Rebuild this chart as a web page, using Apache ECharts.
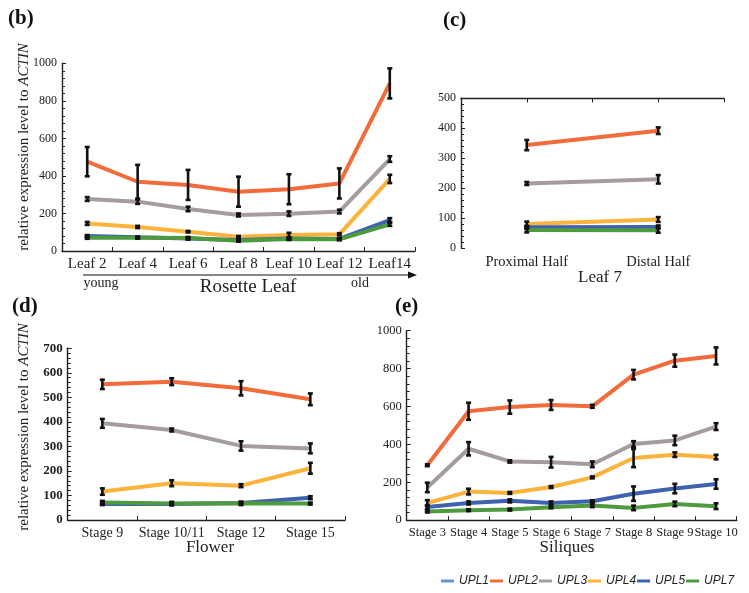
<!DOCTYPE html>
<html>
<head>
<meta charset="utf-8">
<script src="https://cdn.jsdelivr.net/npm/echarts@6/dist/echarts.min.js"></script>
<style>
html,body{margin:0;padding:0;background:#fff;}
#chart{width:749px;height:593px;}
</style>
</head>
<body>
<div id="chart"></div>
<script>
// ---------- data ----------
const genes = ['UPL1','UPL2','UPL3','UPL4','UPL5','UPL7'];
const geneColors = {UPL1:'#5b9bd5',UPL2:'#f26b3a',UPL3:'#a59c9c',UPL4:'#fbb33b',UPL5:'#3f62b0',UPL7:'#4e9a3f'};

// (b) Rosette leaf
const bCats = ['Leaf 2','Leaf 4','Leaf 6','Leaf 8','Leaf 10','Leaf 12','Leaf14'];
const bUPL2 = [476,369,352,316,329,360,893]; const bUPL2Err = [78,90,80,80,80,80,80];
const bUPL3 = [277,263,224,192,199,210,490]; const bUPL3Err = [10,12,12,8,12,10,15];
const bUPL4 = [147,128,103,76,85,89,384];    const bUPL4Err = [8,6,4,4,12,6,22];
const bUPL5 = [80,73,67,59,66,64,165];       const bUPL5Err = [5,4,6,4,4,4,10];
const bUPL7 = [71,71,69,55,64,62,142];       const bUPL7Err = [6,5,6,5,5,5,8];
const bTicks = [0,200,400,600,800,1000];

// (c) Leaf 7
const cCats = ['Proximal Half','Distal Half'];
const cUPL2 = [344,392]; const cUPL2Err = [17,11];
const cUPL3 = [216,230]; const cUPL3Err = [5,14];
const cUPL4 = [81,96];   const cUPL4Err = [8,8];
const cUPL5 = [70,71];   const cUPL5Err = [5,5];
const cUPL7 = [61,60];   const cUPL7Err = [8,8];
const cTicks = [0,100,200,300,400,500];

// (d) Flower
const dCats = ['Stage 9','Stage 10/11','Stage 12','Stage 15'];
const dUPL2 = [553,564,537,492]; const dUPL2Err = [19,14,29,24];
const dUPL3 = [394,367,302,292]; const dUPL3Err = [18,6,19,20];
const dUPL4 = [116,150,140,211]; const dUPL4Err = [13,12,6,22];
const dUPL5 = [65,65,69,91];     const dUPL5Err = [4,4,4,6];
const dUPL7 = [71,67,68,67];     const dUPL7Err = [7,7,7,4];
const dTicks = [0,100,200,300,400,500,600,700];

// (e) Siliques
const eCats = ['Stage 3','Stage 4','Stage 5','Stage 6','Stage 7','Stage 8','Stage 9','Stage 10'];
const eUPL2 = [290,575,597,608,601,768,842,867]; const eUPL2Err = [5,45,35,26,8,25,32,45];
const eUPL3 = [173,377,310,306,295,402,421,494]; const eUPL3Err = [25,35,6,28,15,15,25,18];
const eUPL4 = [91,151,144,175,226,328,346,333];  const eUPL4Err = [15,15,5,5,5,48,12,12];
const eUPL5 = [70,91,102,91,100,140,167,191];    const eUPL5Err = [10,8,8,8,5,38,25,25];
const eUPL7 = [46,53,56,68,77,65,86,74];         const eUPL7Err = [5,5,5,5,8,12,12,15];
const eTicks = [0,200,400,600,800,1000];

// ---------- build ----------
const panels = [
  {grid:0, x:0, s:{UPL2:[bUPL2,bUPL2Err],UPL3:[bUPL3,bUPL3Err],UPL4:[bUPL4,bUPL4Err],UPL5:[bUPL5,bUPL5Err],UPL7:[bUPL7,bUPL7Err]}},
  {grid:1, x:1, s:{UPL2:[cUPL2,cUPL2Err],UPL3:[cUPL3,cUPL3Err],UPL4:[cUPL4,cUPL4Err],UPL5:[cUPL5,cUPL5Err],UPL7:[cUPL7,cUPL7Err]}},
  {grid:2, x:3, s:{UPL2:[dUPL2,dUPL2Err],UPL3:[dUPL3,dUPL3Err],UPL4:[dUPL4,dUPL4Err],UPL5:[dUPL5,dUPL5Err],UPL7:[dUPL7,dUPL7Err]}},
  {grid:3, x:4, s:{UPL2:[eUPL2,eUPL2Err],UPL3:[eUPL3,eUPL3Err],UPL4:[eUPL4,eUPL4Err],UPL5:[eUPL5,eUPL5Err],UPL7:[eUPL7,eUPL7Err]}}
];

const series = [];
series.push({name:'UPL1', type:'line', xAxisIndex:0, yAxisIndex:0, data:[], itemStyle:{color:geneColors.UPL1}, lineStyle:{color:geneColors.UPL1}});
panels.forEach(p => {
  genes.forEach(g => {
    if (!p.s[g]) return;
    series.push({
      name:g, type:'line', xAxisIndex:p.x, yAxisIndex:p.grid, data:p.s[g][0],
      symbol:'none', lineStyle:{width:4, color:geneColors[g]}, itemStyle:{color:geneColors[g]},
      z:2, animation:false
    });
  });
  genes.forEach(g => {
    if (!p.s[g]) return;
    const vals = p.s[g][0], errs = p.s[g][1];
    series.push({
      type:'custom', xAxisIndex:p.x, yAxisIndex:p.grid, z:5, animation:false,
      data: vals.map((v,i)=>[i, v, errs[i]]),
      encode:{x:0, y:1},
      renderItem:function(params, api){
        const i = api.value(0), v = api.value(1), e = api.value(2);
        const top = api.coord([i, v+e]);
        const bot = api.coord([i, v-e]);
        const st = {stroke:'#111', lineWidth:2.6};
        return {type:'group', children:[
          {type:'line', shape:{x1:top[0],y1:top[1],x2:bot[0],y2:bot[1]}, style:st},
          {type:'line', shape:{x1:top[0]-2.5,y1:top[1],x2:top[0]+2.5,y2:top[1]}, style:st},
          {type:'line', shape:{x1:bot[0]-2.5,y1:bot[1],x2:bot[0]+2.5,y2:bot[1]}, style:st}
        ]};
      }
    });
  });
});

const serif = 'Liberation Serif';
const axisLine = {show:true, lineStyle:{color:'#222', width:1.4}};
function yAxis(gi, ticks, fs, bold){
  return {type:'value', gridIndex:gi, min:ticks[0], max:ticks[ticks.length-1], interval:ticks[1]-ticks[0],
    axisLine:axisLine, axisTick:{show:true, inside:true, length:4, lineStyle:{color:'#222'}},
    minorTick:{show:true, splitNumber:5, length:3, lineStyle:{color:'#222'}},
    splitLine:{show:false},
    axisLabel:{fontFamily:serif, fontSize:fs, color:'#222', margin:5, fontWeight: bold?'bold':'normal',
      formatter:function(v){ return String(v); }}};
}
function xAxis(gi, cats, fs, showTick){
  return {type:'category', gridIndex:gi, data:cats, boundaryGap:true,
    axisLine:axisLine, axisTick:{show:showTick, inside:true, length:4, lineStyle:{color:'#222'}},
    axisLabel:{fontFamily:serif, fontSize:fs, color:'#222', margin:6, interval:0}};
}

const option = {
  backgroundColor:'#fff',
  animation:false,
  grid:[
    {left:62, top:63.3, width:353, height:187.7},
    {left:461, top:98.3, width:263, height:150},
    {left:67.7, top:348.3, width:277.3, height:171.7},
    {left:406.7, top:330.7, width:330, height:189.5}
  ],
  xAxis:[
    xAxis(0, bCats, 15, true),
    Object.assign(xAxis(1, cCats, 14.5, false), {axisLine:{show:false}}),
    {type:'category', gridIndex:1, data:['','','',''], boundaryGap:true, axisLine:axisLine,
      axisTick:{show:true, inside:true, length:4, lineStyle:{color:'#222'}}, axisLabel:{show:false}},
    xAxis(2, dCats, 14, true),
    xAxis(3, eCats, 12.5, true)
  ],
  yAxis:[
    yAxis(0, bTicks, 12, false),
    yAxis(1, cTicks, 12, false),
    yAxis(2, dTicks, 13, true),
    yAxis(3, eTicks, 12.5, false)
  ],
  legend:{
    data:genes, left:436, top:570, width:313, icon:'rect', itemWidth:13, itemHeight:3, itemGap:1,
    textStyle:{fontFamily:'Liberation Sans', fontStyle:'italic', fontSize:12, color:'#222'}
  },
  series:series,
  graphic:[
    {type:'text', left:8, top:8, style:{text:'(b)', font:'bold 21px "Liberation Serif"', fill:'#111'}},
    {type:'text', left:443, top:10, style:{text:'(c)', font:'bold 21px "Liberation Serif"', fill:'#111'}},
    {type:'text', left:12, top:296, style:{text:'(d)', font:'bold 21px "Liberation Serif"', fill:'#111'}},
    {type:'text', left:395, top:296, style:{text:'(e)', font:'bold 21px "Liberation Serif"', fill:'#111'}},
    {type:'text', x:24, y:147, rotation:Math.PI/2, style:{text:'{n|relative expression level to }{i|ACTIN}', align:'center', verticalAlign:'middle',
      rich:{n:{fontFamily:serif, fontSize:15, fill:'#222'}, i:{fontFamily:serif, fontSize:15, fontStyle:'italic', fill:'#222'}}}},
    {type:'text', x:24, y:427, rotation:Math.PI/2, style:{text:'{n|relative expression level to }{i|ACTIN}', align:'center', verticalAlign:'middle',
      rich:{n:{fontFamily:serif, fontSize:15, fill:'#222'}, i:{fontFamily:serif, fontSize:15, fontStyle:'italic', fill:'#222'}}}},
    {type:'line', shape:{x1:83, y1:275, x2:412, y2:275}, style:{stroke:'#111', lineWidth:1}},
    {type:'polygon', shape:{points:[[417,275],[408,271.5],[408,278.5]]}, style:{fill:'#111'}},
    {type:'text', x:101, y:283, style:{text:'young', font:'14px "Liberation Serif"', fill:'#222', align:'center', verticalAlign:'middle'}},
    {type:'text', x:360, y:283, style:{text:'old', font:'14px "Liberation Serif"', fill:'#222', align:'center', verticalAlign:'middle'}},
    {type:'text', x:248, y:287, style:{text:'Rosette Leaf', font:'19px "Liberation Serif"', fill:'#222', align:'center', verticalAlign:'middle'}},
    {type:'text', x:600, y:278, style:{text:'Leaf 7', font:'17px "Liberation Serif"', fill:'#222', align:'center', verticalAlign:'middle'}},
    {type:'text', x:210, y:548, style:{text:'Flower', font:'17px "Liberation Serif"', fill:'#222', align:'center', verticalAlign:'middle'}},
    {type:'text', x:567, y:548, style:{text:'Siliques', font:'17px "Liberation Serif"', fill:'#222', align:'center', verticalAlign:'middle'}}
  ]
};

const chart = echarts.init(document.getElementById('chart'), null, {renderer:'canvas'});
chart.setOption(option);
</script>
</body>
</html>
